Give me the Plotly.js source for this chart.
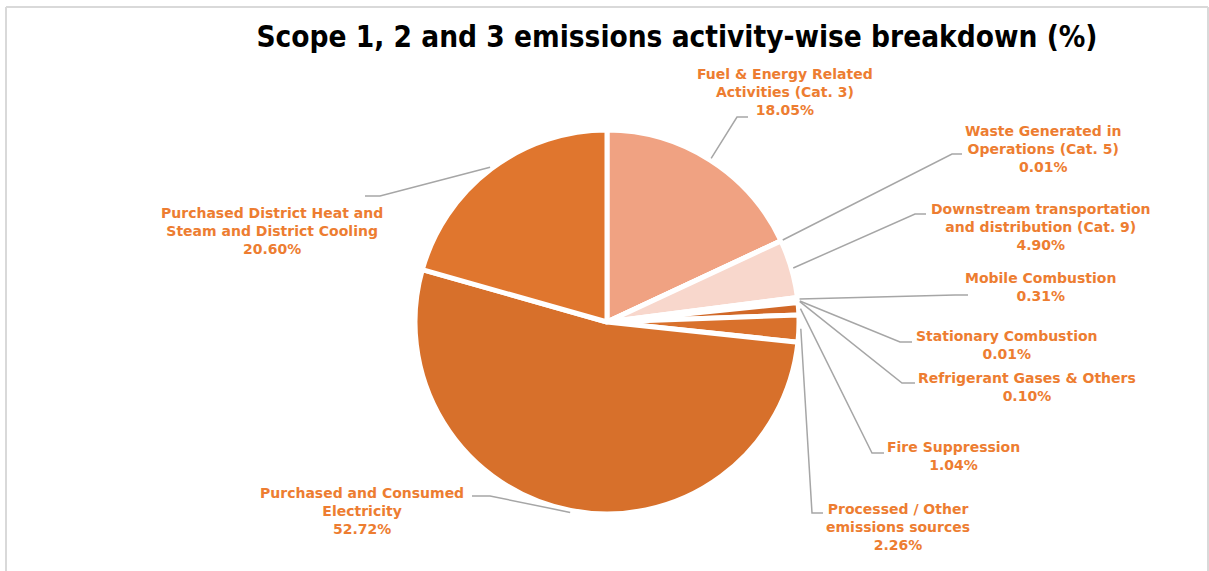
<!DOCTYPE html>
<html>
<head>
<meta charset="utf-8">
<script src="https://cdn.plot.ly/plotly-3.0.1.min.js"></script>
<style>
  html, body { margin: 0; padding: 0; background: #ffffff; }
  #chart { width: 1209px; height: 571px; }
</style>
</head>
<body>
<div id="chart"></div>
<script>
// ---------- data ----------
const categories = [
  "Fuel & Energy Related Activities (Cat. 3)",
  "Waste Generated in Operations (Cat. 5)",
  "Downstream transportation and distribution (Cat. 9)",
  "Mobile Combustion",
  "Stationary Combustion",
  "Refrigerant Gases & Others",
  "Fire Suppression",
  "Processed / Other emissions sources",
  "Purchased and Consumed Electricity",
  "Purchased District Heat and Steam and District Cooling"
];
const values = [18.05, 0.01, 4.90, 0.31, 0.01, 0.10, 1.04, 2.26, 52.72, 20.60];
const labelLines = [
  ["Fuel & Energy Related", "Activities (Cat. 3)"],
  ["Waste Generated in", "Operations (Cat. 5)"],
  ["Downstream transportation", "and distribution (Cat. 9)"],
  ["Mobile Combustion"],
  ["Stationary Combustion"],
  ["Refrigerant Gases & Others"],
  ["Fire Suppression"],
  ["Processed / Other", "emissions sources"],
  ["Purchased and Consumed", "Electricity"],
  ["Purchased District Heat and", "Steam and District Cooling"]
];
const sliceColors = ["#F0A282", "#F3B294", "#F8D7CC", "#D36A27", "#D36A27",
                     "#D36A27", "#D16827", "#D9712C", "#D7702B", "#E0762E"];

// ---------- layout geometry (pixels) ----------
const W = 1209, H = 571;
const cx = 607, cy = 322, R = 192;
// label block centres, leader-line elbow and end points
const labelPos = [
  {x: 785, y: 92,  ex: 737, ey: 117, tx: 748, ty: 117},
  {x: 1043, y: 149, ex: 952, ey: 154, tx: 962, ty: 154},
  {x: 1041, y: 227, ex: 915, ey: 214, tx: 926, ty: 214},
  {x: 1040, y: 287, ex: 955, ey: 295, tx: 968, ty: 295},
  {x: 1007, y: 345, ex: 900, ey: 342, tx: 912, ty: 342},
  {x: 1027, y: 387, ex: 902, ey: 383, tx: 915, ty: 383},
  {x: 953, y: 456, ex: 872, ey: 453, tx: 884, ty: 453},
  {x: 898, y: 527, ex: 812, ey: 513, tx: 823, ty: 513},
  {x: 362, y: 511, ex: 490, ey: 496, tx: 472, ty: 496},
  {x: 272, y: 231, ex: 380, ey: 196, tx: 365, ty: 196}
];
const px = x => x / W;
const py = y => 1 - y / H;

const total = values.reduce((a, b) => a + b, 0);
const labelFont = {family: "DejaVu Sans, sans-serif", size: 14, color: "#ED7D31", weight: "bold"};

const annotations = [];
const shapes = [];
let cum = 0;
values.forEach((v, i) => {
  const mid = (cum + v / 2) / total * 2 * Math.PI;
  cum += v;
  const sx = cx + R * 1.01 * Math.sin(mid);
  const sy = cy - R * 1.01 * Math.cos(mid);
  const p = labelPos[i];
  shapes.push({
    type: "path", xref: "paper", yref: "paper",
    path: `M ${px(sx)},${py(sy)} L ${px(p.ex)},${py(p.ey)} L ${px(p.tx)},${py(p.ty)}`,
    line: {color: "#A6A6A6", width: 1.5}
  });
  annotations.push({
    xref: "paper", yref: "paper", x: px(p.x), y: py(p.y),
    xanchor: "center", yanchor: "middle", showarrow: false, align: "center",
    text: labelLines[i].concat([v.toFixed(2) + "%"]).join("<br>"),
    font: labelFont
  });
});

// chart frame
shapes.push({type: "line", xref: "paper", yref: "paper", x0: px(6), x1: px(6), y0: 0, y1: py(7), line: {color: "#D9D9D9", width: 2}});
shapes.push({type: "line", xref: "paper", yref: "paper", x0: px(6), x1: px(1208), y0: py(7), y1: py(7), line: {color: "#D9D9D9", width: 2}});
shapes.push({type: "line", xref: "paper", yref: "paper", x0: px(1208), x1: px(1208), y0: 0, y1: py(7), line: {color: "#D9D9D9", width: 2}});

const trace = {
  type: "pie",
  labels: categories,
  values: values,
  sort: false,
  direction: "clockwise",
  rotation: 0,
  textinfo: "none",
  hoverinfo: "label+percent",
  marker: {colors: sliceColors, line: {color: "#FFFFFF", width: 5}},
  domain: {x: [px(cx - R), px(cx + R)], y: [py(cy + R), py(cy - R)]},
  showlegend: false
};

const layout = {
  width: W, height: H,
  margin: {l: 0, r: 0, t: 0, b: 0},
  paper_bgcolor: "#FFFFFF",
  showlegend: false,
  title: {
    text: "Scope 1, 2 and 3 emissions activity-wise breakdown (%)",
    x: px(677), xanchor: "center", y: py(37), yanchor: "middle",
    font: {family: "DejaVu Sans Condensed, sans-serif", size: 29.5, color: "#000000", weight: "bold"}
  },
  annotations: annotations,
  shapes: shapes
};

Plotly.newPlot("chart", [trace], layout, {displayModeBar: false, staticPlot: true});
</script>
</body>
</html>
